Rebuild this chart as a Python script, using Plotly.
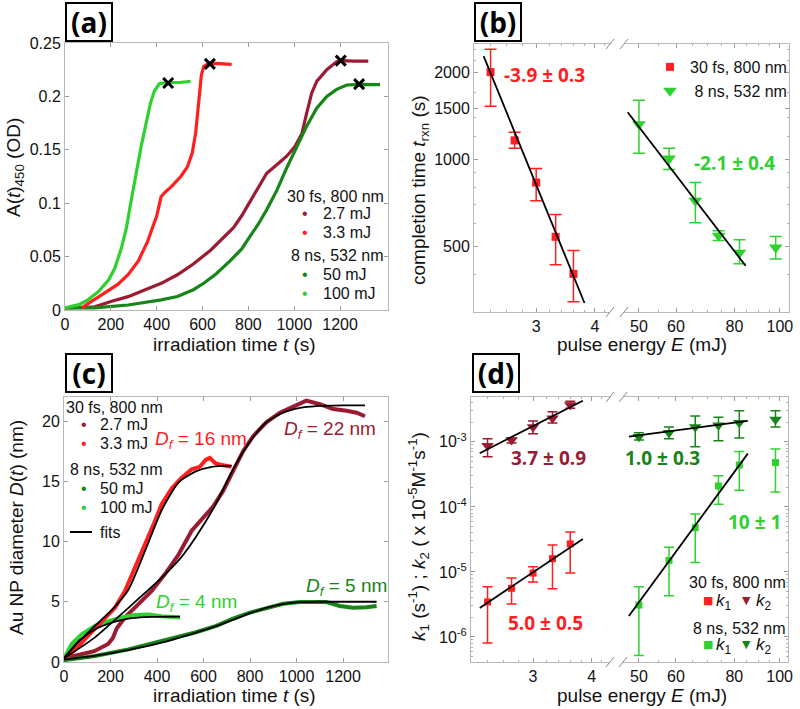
import numpy as np
import plotly.graph_objects as go

W, H = 800, 709
def px(x): return x / W
def py(y): return 1 - y / H

DRED = '#9b1b33'
RED = '#ff1f1f'
DGRN = '#178517'
LGRN = '#2fd12f'
FRAME = '#b8b8b8'
TICKC = '#999999'
TXT = '#111111'
FONT = 'Liberation Sans'
BFONT = 'Open Sans'

# ---------------- panel (a): absorbance A(t)450 ----------------
ta_27 = [0, 130, 200, 275, 350, 420, 490, 560, 635, 700, 735, 770, 807, 844, 880, 924, 967, 1003, 1033, 1054, 1076, 1098, 1142, 1185, 1214, 1260, 1323]
Aa_27 = [0.002, 0.003, 0.008, 0.0125, 0.019, 0.025, 0.033, 0.043, 0.056, 0.070, 0.077, 0.088, 0.101, 0.115, 0.128, 0.136, 0.144, 0.153, 0.165, 0.184, 0.203, 0.214, 0.225, 0.2325, 0.2335, 0.233, 0.233]
ta_33 = [75, 100, 145, 190, 230, 275, 320, 360, 400, 419, 440, 462, 483, 505, 534, 555, 570, 580, 588, 595, 605, 620, 660, 727]
Aa_33 = [0.002, 0.006, 0.012, 0.018, 0.024, 0.033, 0.046, 0.064, 0.088, 0.106, 0.111, 0.115, 0.120, 0.125, 0.134, 0.147, 0.166, 0.185, 0.205, 0.220, 0.228, 0.230, 0.231, 0.230]
ta_50 = [0, 130, 275, 420, 490, 560, 605, 660, 720, 770, 807, 845, 880, 924, 967, 1011, 1054, 1098, 1142, 1185, 1229, 1287, 1374]
Aa_50 = [0.002, 0.002, 0.0047, 0.0095, 0.0126, 0.019, 0.025, 0.034, 0.046, 0.057, 0.069, 0.081, 0.094, 0.112, 0.133, 0.153, 0.172, 0.189, 0.200, 0.2066, 0.2107, 0.2112, 0.211]
ta_100 = [0, 60, 100, 145, 190, 217, 246, 268, 289, 310, 332, 354, 373, 390, 412, 447, 500, 548]
Aa_100 = [0.002, 0.005, 0.0095, 0.017, 0.028, 0.039, 0.058, 0.077, 0.103, 0.128, 0.153, 0.175, 0.194, 0.205, 0.212, 0.213, 0.213, 0.214]
tx_end = [450, 632, 1203, 1283]
Ax_end = [0.2125, 0.2305, 0.2335, 0.2115]

# ---------------- panel (b): completion time ----------------
Eb_fs = [2.4, 2.7, 3.0, 3.3, 3.6]
tb_fs = [2000, 1163, 832, 541, 403]
tb_fs_hi = [2400, 1242, 931, 646, 485]
tb_fs_lo = [1525, 1092, 721, 433, 323]
Eb_fs_fit = [2.32, 3.80]
tb_fs_fit = [2270, 320]
Eb_ns = [50, 58, 66, 74, 82, 98]
tb_ns = [1322, 1008, 721, 546, 477, 497]
tb_ns_hi = [1600, 1092, 832, 568, 529, 542]
tb_ns_lo = [1050, 923, 605, 525, 437, 454]
Eb_ns_fit = [47.3, 84.5]
tb_ns_fit = [1455, 430]

# ---------------- panel (c): diameter D(t) ----------------
tc_27 = [0, 60, 130, 190, 210, 227, 262, 320, 377, 434, 492, 549, 600, 641, 684, 724, 770, 813, 870, 928, 985, 1042, 1100, 1157, 1215, 1258, 1294]
Dc_27 = [0.3, 0.6, 0.9, 1.5, 2.0, 2.8, 3.7, 4.8, 5.9, 7.3, 8.9, 10.9, 12.0, 12.9, 14.2, 15.7, 17.5, 18.75, 19.9, 20.7, 21.2, 21.7, 21.4, 21.0, 20.85, 20.7, 20.4]
tc_27_fit = [0, 130, 277, 420, 500, 564, 650, 727, 800, 870, 942, 1014, 1085, 1200, 1294]
Dc_27_fit = [0.3, 2.0, 4.5, 7.0, 8.6, 10.3, 13.0, 16.0, 18.3, 19.9, 20.7, 21.1, 21.25, 21.3, 21.3]
tc_33 = [0, 47, 105, 162, 219, 262, 305, 348, 391, 420, 463, 506, 549, 584, 610, 627, 650, 670, 713, 720]
Dc_33 = [0.3, 1.0, 2.2, 3.3, 4.5, 5.9, 7.8, 9.75, 11.7, 13.1, 14.4, 15.3, 16.0, 16.2, 16.8, 16.95, 16.5, 16.4, 16.2, 16.2]
tc_33_fit = [0, 60, 133, 205, 277, 348, 420, 492, 564, 635, 721]
Dc_33_fit = [0.3, 1.6, 3.0, 4.3, 6.0, 9.2, 12.6, 14.9, 15.8, 16.2, 16.3]
tc_50 = [0, 133, 277, 420, 564, 655, 727, 799, 870, 942, 1014, 1085, 1128, 1186, 1243, 1300, 1344]
Dc_50 = [0.15, 0.5, 1.05, 1.74, 2.45, 3.0, 3.6, 4.1, 4.5, 4.84, 4.98, 5.0, 4.98, 4.65, 4.5, 4.55, 4.65]
tc_50_fit = [0, 130, 280, 420, 560, 650, 720, 800, 870, 940, 1010, 1090, 1344]
Dc_50_fit = [0.2, 0.5, 1.0, 1.6, 2.4, 2.95, 3.45, 4.05, 4.5, 4.8, 4.97, 5.0, 5.0]
tc_100 = [0, 33, 76, 133, 191, 248, 305, 363, 420, 499]
Dc_100 = [0.3, 1.5, 2.3, 3.0, 3.4, 3.7, 3.9, 3.95, 3.8, 3.7]
tc_100_fit = [0, 62, 133, 205, 277, 348, 499]
Dc_100_fit = [0.3, 1.74, 2.7, 3.26, 3.6, 3.73, 3.76]

# ---------------- panel (d): rate constants ----------------
Ed_fs = [2.4, 2.7, 3.0, 3.3, 3.6]
k1_fs = [3.46e-6, 5.6e-6, 9.6e-6, 1.6e-5, 2.7e-5]
k1_fs_hi = [5.9e-6, 8.1e-6, 1.2e-5, 2.6e-5, 4.1e-5]
k1_fs_lo = [8.1e-7, 3.2e-6, 7.0e-6, 5.5e-6, 9.6e-6]
k2_fs = [8.7e-4, 1.07e-3, 1.7e-3, 2.3e-3, 3.7e-3]
k2_fs_hi = [1.12e-3, 1.14e-3, 2.1e-3, 2.9e-3, 4.2e-3]
k2_fs_lo = [5.9e-4, 9.6e-4, 1.33e-3, 1.95e-3, 3.3e-3]
Ed_ns = [50, 58, 66, 74, 82, 98]
k1_ns = [3.1e-6, 1.5e-5, 4.8e-5, 2.1e-4, 4.4e-4, 4.8e-4]
k1_ns_hi = [5.9e-6, 2.4e-5, 7.8e-5, 3.0e-4, 7.1e-4, 7.8e-4]
k1_ns_lo = [5.2e-7, 4.3e-6, 1.4e-5, 1.1e-4, 1.8e-4, 1.7e-4]
k2_ns = [1.2e-3, 1.38e-3, 1.7e-3, 1.8e-3, 1.96e-3, 2.2e-3]
k2_ns_hi = [1.38e-3, 1.7e-3, 2.5e-3, 2.4e-3, 3.0e-3, 3.0e-3]
k2_ns_lo = [1.07e-3, 1.12e-3, 8.4e-4, 1.04e-3, 1.15e-3, 1.7e-3]
Ed_fs_fit = [2.31, 3.83]
k1_fs_fit = [2.8e-6, 3.2e-5]
k2_fs_fit = [6.7e-4, 4.3e-3]
Ed_ns_fit = [47.6, 85.5]
k1_ns_fit = [2.1e-6, 6.6e-4]
k2_ns_fit = [1.2e-3, 2.1e-3]

def err(v, hi, lo):
    v, hi, lo = np.array(v), np.array(hi), np.array(lo)
    return (hi - v).tolist(), (v - lo).tolist()

fig = go.Figure()
LF = dict(family=FONT, size=16, color=TXT)

# ---- (a)
for t, a, c in [(ta_27, Aa_27, DRED), (ta_50, Aa_50, DGRN), (ta_33, Aa_33, RED), (ta_100, Aa_100, LGRN)]:
    fig.add_trace(go.Scatter(x=t, y=a, mode='lines', line=dict(color=c, width=3.2),
                             showlegend=False, xaxis='x', yaxis='y'))
fig.add_trace(go.Scatter(x=tx_end, y=Ax_end, mode='markers',
                         marker=dict(symbol='x-thin', size=10, line=dict(width=3, color='black')),
                         showlegend=False, xaxis='x', yaxis='y'))

# ---- (b)
ep, em = err(tb_fs, tb_fs_hi, tb_fs_lo)
fig.add_trace(go.Scatter(x=Eb_fs, y=tb_fs, mode='markers', name='30 fs, 800 nm', legend='legend',
                         marker=dict(symbol='square', size=8, color=RED),
                         error_y=dict(type='data', symmetric=False, array=ep, arrayminus=em, color=RED, thickness=1.5, width=6),
                         xaxis='x2', yaxis='y2'))
fig.add_trace(go.Scatter(x=Eb_fs_fit, y=tb_fs_fit, mode='lines', line=dict(color='black', width=1.8),
                         showlegend=False, xaxis='x2', yaxis='y2'))
ep, em = err(tb_ns, tb_ns_hi, tb_ns_lo)
fig.add_trace(go.Scatter(x=Eb_ns, y=tb_ns, mode='markers', name='&nbsp;8 ns, 532 nm', legend='legend',
                         marker=dict(symbol='triangle-down', size=12, color=LGRN),
                         error_y=dict(type='data', symmetric=False, array=ep, arrayminus=em, color=LGRN, thickness=1.5, width=6),
                         xaxis='x3', yaxis='y3'))
fig.add_trace(go.Scatter(x=Eb_ns_fit, y=tb_ns_fit, mode='lines', line=dict(color='black', width=1.8),
                         showlegend=False, xaxis='x3', yaxis='y3'))

# ---- (c)
for t, d, c in [(tc_27, Dc_27, DRED), (tc_50, Dc_50, DGRN), (tc_100, Dc_100, LGRN), (tc_33, Dc_33, RED)]:
    fig.add_trace(go.Scatter(x=t, y=d, mode='lines', line=dict(color=c, width=4),
                             showlegend=False, xaxis='x4', yaxis='y4'))
for t, d in [(tc_27_fit, Dc_27_fit), (tc_33_fit, Dc_33_fit), (tc_50_fit, Dc_50_fit), (tc_100_fit, Dc_100_fit)]:
    fig.add_trace(go.Scatter(x=t, y=d, mode='lines', line=dict(color='black', width=1.8, shape='spline', smoothing=0.6),
                             showlegend=False, xaxis='x4', yaxis='y4'))

# ---- (d)
for E, k, hi, lo, c, sym, sz, xa in [
        (Ed_fs, k1_fs, k1_fs_hi, k1_fs_lo, RED, 'square', 7, 'x5'),
        (Ed_fs, k2_fs, k2_fs_hi, k2_fs_lo, DRED, 'triangle-down', 11, 'x5'),
        (Ed_ns, k1_ns, k1_ns_hi, k1_ns_lo, LGRN, 'square', 7, 'x6'),
        (Ed_ns, k2_ns, k2_ns_hi, k2_ns_lo, DGRN, 'triangle-down', 11, 'x6')]:
    ep, em = err(k, hi, lo)
    fig.add_trace(go.Scatter(x=E, y=k, mode='markers', showlegend=False,
                             marker=dict(symbol=sym, size=sz, color=c),
                             error_y=dict(type='data', symmetric=False, array=ep, arrayminus=em, color=c, thickness=1.5, width=5),
                             xaxis=xa, yaxis='y5' if xa == 'x5' else 'y6'))
for E, k, xa in [(Ed_fs_fit, k1_fs_fit, 'x5'), (Ed_fs_fit, k2_fs_fit, 'x5'),
                 (Ed_ns_fit, k1_ns_fit, 'x6'), (Ed_ns_fit, k2_ns_fit, 'x6')]:
    fig.add_trace(go.Scatter(x=E, y=k, mode='lines', line=dict(color='black', width=1.8),
                             showlegend=False, xaxis=xa, yaxis='y5' if xa == 'x5' else 'y6'))

# ---------------- axes ----------------
TF = dict(family=FONT, size=16, color=TXT)
TITF = dict(family=FONT, size=19, color=TXT)
base = dict(showline=True, linecolor=FRAME, linewidth=1, ticks='inside', tickcolor=TICKC, ticklen=4,
            showgrid=False, zeroline=False, tickfont=TF, automargin=False)
minor_log = dict(ticks='inside', ticklen=2, tickcolor='#b0b0b0')
minor_k = [m * 10.0 ** e for e in range(-7, -2) for m in range(2, 10)]
minor_t = [300, 400, 600, 700, 800, 900, 1200, 1400, 1700, 2200, 2400]

t_ticks = [0, 200, 400, 600, 800, 1000, 1200]
fig.update_layout(
    xaxis=dict(base, domain=[px(65), px(388)], range=[0, 1409], tickvals=t_ticks, mirror='ticks', anchor='y'),
    yaxis=dict(base, domain=[py(310), py(43)], range=[0, 0.25], tickvals=[0, 0.05, 0.1, 0.15, 0.2, 0.25],
               ticktext=['0', '0.05', '0.1', '0.15', '0.2', '0.25'], mirror='ticks', anchor='x'),
    xaxis2=dict(base, type='log', domain=[px(474), px(610)], range=[0.345, 0.634], tickvals=[3, 4],
                mirror='ticks', anchor='y2', minor=dict(minor_log, tickvals=[2.4, 2.6, 2.8, 3.2, 3.4, 3.6, 3.8, 4.2])),
    yaxis2=dict(base, type='log', domain=[py(312), py(44)], range=[2.474, 3.398], tickvals=[500, 1000, 1500, 2000],
                anchor='x2', minor=dict(minor_log, tickvals=minor_t)),
    xaxis3=dict(base, type='log', domain=[px(624), px(789)], range=[1.667, 2.0196], tickvals=[50, 60, 80, 100],
                mirror='ticks', anchor='y3', minor=dict(minor_log, tickvals=[55, 65, 70, 75, 85, 90, 95])),
    yaxis3=dict(base, type='log', domain=[py(312), py(44)], range=[2.474, 3.398], tickvals=[500, 1000, 1500, 2000],
                anchor='x3', side='right', showticklabels=False, matches='y2', minor=dict(minor_log, tickvals=minor_t)),
    xaxis4=dict(base, domain=[px(64), px(388)], range=[0, 1393], tickvals=t_ticks, mirror='ticks', anchor='y4'),
    yaxis4=dict(base, domain=[py(662), py(397)], range=[0, 22], tickvals=[0, 5, 10, 15, 20], mirror='ticks', anchor='x4'),
    xaxis5=dict(base, type='log', domain=[px(471), px(610)], range=[0.345, 0.641], tickvals=[3, 4],
                mirror='ticks', anchor='y5', minor=dict(minor_log, tickvals=[2.4, 2.6, 2.8, 3.2, 3.4, 3.6, 3.8, 4.2])),
    yaxis5=dict(base, type='log', domain=[py(662), py(397)], range=[-6.385, -2.31],
                tickvals=[1e-6, 1e-5, 1e-4, 1e-3], ticktext=['10<sup>-6</sup>', '10<sup>-5</sup>', '10<sup>-4</sup>', '10<sup>-3</sup>'],
                anchor='x5', minor=dict(minor_log, tickvals=minor_k)),
    xaxis6=dict(base, type='log', domain=[px(623), px(788)], range=[1.665, 2.018], tickvals=[50, 60, 80, 100],
                mirror='ticks', anchor='y6', minor=dict(minor_log, tickvals=[55, 65, 70, 75, 85, 90, 95])),
    yaxis6=dict(base, type='log', domain=[py(662), py(397)], range=[-6.385, -2.31], tickvals=[1e-6, 1e-5, 1e-4, 1e-3],
                anchor='x6', side='right', showticklabels=False, matches='y5', minor=dict(minor_log, tickvals=minor_k)),
)

# legend of panel (b)
fig.update_layout(
    showlegend=True,
    legend=dict(font=LF, bgcolor='rgba(0,0,0,0)', borderwidth=0, itemwidth=30, tracegroupgap=0,
                x=px(792), xanchor='right', y=py(50), yanchor='top'),
)

ann = []
def A(text, x, y, font, xanchor='center', yanchor='middle', **kw):
    d = dict(text=text, x=px(x), y=py(y), xref='paper', yref='paper', showarrow=False,
             font=font, xanchor=xanchor, yanchor=yanchor)
    d.update(kw)
    ann.append(d)

# panel labels
for lab, cx, cy in [('(a)', 89, 22), ('(b)', 498, 22), ('(c)', 89, 373), ('(d)', 496, 373)]:
    A('<b>%s</b>' % lab, cx, cy, dict(family=BFONT, size=28, color='black'), bordercolor='black', borderwidth=2,
      borderpad=0, width=44, height=36, bgcolor='white')

# axis titles
A('irradiation time <i>t</i> (s)', 234, 344, TITF)
A('irradiation time <i>t</i> (s)', 234, 695, TITF)
A('pulse energy <i>E</i> (mJ)', 642, 344, TITF)
A('pulse energy <i>E</i> (mJ)', 642, 695, TITF)
A('A(<i>t</i>)<sub>450</sub> (OD)', 15, 168, TITF, textangle=-90)
A('Au NP diameter <i>D</i>(<i>t</i>) (nm)', 16, 528, TITF, textangle=-90)
A('completion time <i>t</i><sub>rxn</sub> (s)', 420, 190, TITF, textangle=-90)
A('<i>k</i><sub>1</sub> (s<sup>-1</sup>) ; <i>k</i><sub>2</sub> ( x 10<sup>-5</sup>M<sup>-1</sup>s<sup>-1</sup>)', 418, 537, TITF, textangle=-90)

# fitted slopes
BF = lambda c: dict(family=BFONT, size=19, color=c)
for txt, cx, cy, c in [('-3.9 ± 0.3', 544, 75, RED), ('-2.1 ± 0.4', 734, 163, LGRN),
                       ('3.7 ± 0.9', 548, 458, DRED), ('1.0 ± 0.3', 662, 458, DGRN),
                       ('10 ± 1', 754, 522, LGRN), ('5.0 ± 0.5', 545, 623, RED)]:
    A('<b>%s</b>' % txt, cx, cy, BF(c))

# final diameters
DF = lambda c: dict(family=FONT, size=19, color=c)
for txt, cx, cy, c in [('<i>D<sub>f</sub></i> = 16 nm', 201, 440, RED), ('<i>D<sub>f</sub></i> = 22 nm', 330, 430, DRED),
                       ('<i>D<sub>f</sub></i> = 4 nm', 196, 603, LGRN), ('<i>D<sub>f</sub></i> = 5 nm', 346, 587, DGRN)]:
    A(txt, cx, cy, DF(c))

# key for panel (a)
DOT = lambda c: dict(family=FONT, size=16, color=c)
A('30 fs, 800 nm', 386, 196, LF, xanchor='right')
A('8 ns, 532 nm', 386, 255, LF, xanchor='right')
for name, c, yy in [('2.7 mJ', DRED, 214), ('3.3 mJ', RED, 233), ('50 mJ', DGRN, 274), ('100 mJ', LGRN, 293)]:
    A('•', 305, yy, DOT(c))
    A(name, 321, yy, LF, xanchor='left')

# key for panel (c)
A('30 fs, 800 nm', 165, 407, LF, xanchor='right')
A('8 ns, 532 nm', 165, 469, LF, xanchor='right')
for name, c, yy in [('2.7 mJ', DRED, 425), ('3.3 mJ', RED, 443), ('50 mJ', DGRN, 488), ('100 mJ', LGRN, 507)]:
    A('•', 84, yy, DOT(c))
    A(name, 98, yy, LF, xanchor='left')
A('fits', 98, 532, LF, xanchor='left')

# key for panel (d)
A('30 fs, 800 nm', 788, 582, LF, xanchor='right')
A('8 ns, 532 nm', 788, 628, LF, xanchor='right')
SYM = lambda c, s: dict(family='DejaVu Sans', size=s, color=c)
for yy, c1, c2 in [(602, RED, DRED), (646, LGRN, DGRN)]:
    A('■', 708, yy - 2, SYM(c1, 11))
    A('<i>k</i><sub>1</sub>', 714, yy, dict(family=FONT, size=17, color=TXT), xanchor='left')
    A('▼', 746, yy - 2, SYM(c2, 11))
    A('<i>k</i><sub>2</sub>', 754, yy, dict(family=FONT, size=17, color=TXT), xanchor='left')

shapes = []
for ytop, ybot, xl, xr in [(44, 312, 610, 624), (397, 662, 610, 623)]:
    for yy in (ytop, ybot):
        for cx in (xl, xr):
            shapes.append(dict(type='line', xref='paper', yref='paper', x0=px(cx - 4), y0=py(yy + 5),
                               x1=px(cx + 4), y1=py(yy - 5), line=dict(color='#888888', width=1)))
# 'fits' key line in panel (c)
shapes.append(dict(type='line', xref='paper', yref='paper', x0=px(70), y0=py(532), x1=px(92), y1=py(532),
                   line=dict(color='black', width=2)))

fig.update_layout(annotations=ann, shapes=shapes, width=W, height=H,
                  margin=dict(l=0, r=0, t=0, b=0), paper_bgcolor='white', plot_bgcolor='white',
                  font=dict(family=FONT, color=TXT))
fig.write_html('out.html', config={'displayModeBar': False},
               post_script="document.body.style.margin='0';document.body.style.padding='0';"
                           "document.documentElement.style.overflow='hidden';")
